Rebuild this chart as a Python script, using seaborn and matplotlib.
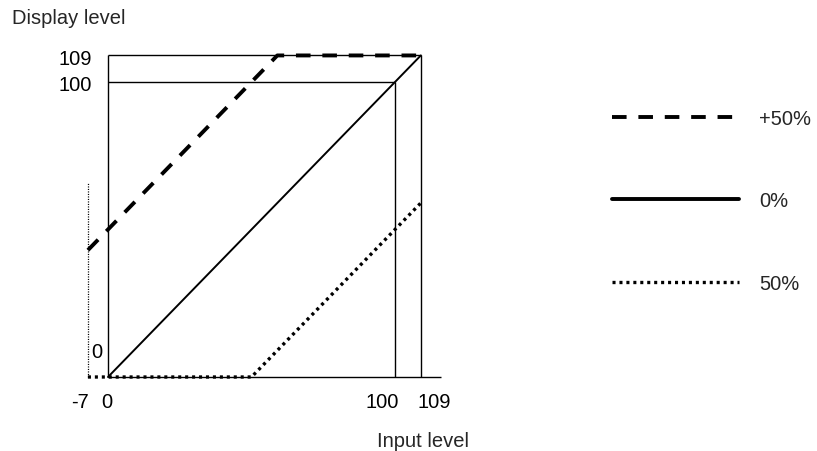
import matplotlib
matplotlib.use("Agg")
import matplotlib.pyplot as plt
import seaborn as sns
import pandas as pd
from matplotlib.lines import Line2D

sns.set_theme(style="white")
plt.rcParams['font.family'] = ['Liberation Sans', 'DejaVu Sans']
plt.rcParams['lines.scale_dashes'] = False

# Data (input level -> display level)
plus50_x = [-7, 59, 109]
plus50_y = [43, 109, 109]
zero_x = [0, 109]
zero_y = [0, 109]
minus50_x = [-7, 50, 109]
minus50_y = [0, 0, 59]

series_labels = ["+50%", "0%", "50%"]
x_ticks = [-7, 0, 100, 109]
y_ticks = [0, 100, 109]

fig = plt.figure(figsize=(8.17, 4.52), dpi=100)
W, H = 817, 452
x0px, sx = 108, 2.87
y0px, sy = 378, 2.95
xlim = (-13, 118)
ylim = (-5, 115)
left = (x0px + sx * xlim[0]) / W
width = sx * (xlim[1] - xlim[0]) / W
bottom = (H - (y0px - sy * ylim[0])) / H
height = sy * (ylim[1] - ylim[0]) / H
ax = fig.add_axes([left, bottom, width, height])
ax.set_xlim(*xlim)
ax.set_ylim(*ylim)
ax.axis("off")

gl = dict(color="black", lw=1.0, solid_capstyle="butt")
# frame / guide lines
ax.plot([0, 116], [0, 0], **gl)
ax.plot([0, 0], [0, 109], **gl)
ax.plot([0, 109], [109, 109], **gl)
ax.plot([0, 100], [100, 100], **gl)
ax.plot([100, 100], [0, 100], **gl)
ax.plot([109, 109], [0, 109], **gl)
ax.plot([-7, -7], [0, 66], color="black", lw=0.9, dashes=(0.8, 1.0))

df_p = pd.DataFrame({"x": plus50_x, "y": plus50_y})
df_z = pd.DataFrame({"x": zero_x, "y": zero_y})
df_m = pd.DataFrame({"x": minus50_x, "y": minus50_y})
sns.lineplot(data=df_p, x="x", y="y", ax=ax, color="black", lw=2.8, estimator=None)
ax.lines[-1].set_dashes((10.5, 8.5))
sns.lineplot(data=df_z, x="x", y="y", ax=ax, color="black", lw=1.4, estimator=None)
sns.lineplot(data=df_m, x="x", y="y", ax=ax, color="black", lw=2.4, estimator=None)
ax.lines[-1].set_dashes((2.2, 2.8))

fs = 14.5
# tick labels, slightly offset from their guide lines as in the original drawing
xlab_off = {-7: -2.6, 0: -0.3, 100: -4.4, 109: 4.8}
for xv in x_ticks:
    ax.text(xv + xlab_off[xv], -8.2, str(xv), ha="center", va="center", fontsize=fs, color="black")
ax.text(-3.8, 8.5, str(y_ticks[0]), ha="center", va="center", fontsize=fs, color="black")
ylab_off = {100: -0.7, 109: -1.0}
for yv in y_ticks[1:]:
    ax.text(-5.5, yv + ylab_off[yv], str(yv), ha="right", va="center", fontsize=fs, color="black")

fig.text(12 / W, 1 - 18 / H, "Display level", ha="left", va="center", fontsize=fs)
fig.text(423 / W, 1 - 442 / H, "Input level", ha="center", va="center", fontsize=fs)

handles = [
    Line2D([], [], color="black", lw=2.8, dashes=(10.5, 8.5)),
    Line2D([], [], color="black", lw=2.8),
    Line2D([], [], color="black", lw=2.4, dashes=(2.2, 2.8)),
]
fig.legend(handles, series_labels, loc="upper left", bbox_to_anchor=(612 / W, 1 - 110 / H),
           frameon=False, fontsize=fs, handlelength=6.3, handletextpad=1.0,
           labelspacing=3.15, borderaxespad=0, borderpad=0)

fig.savefig("out.png", dpi=100)
